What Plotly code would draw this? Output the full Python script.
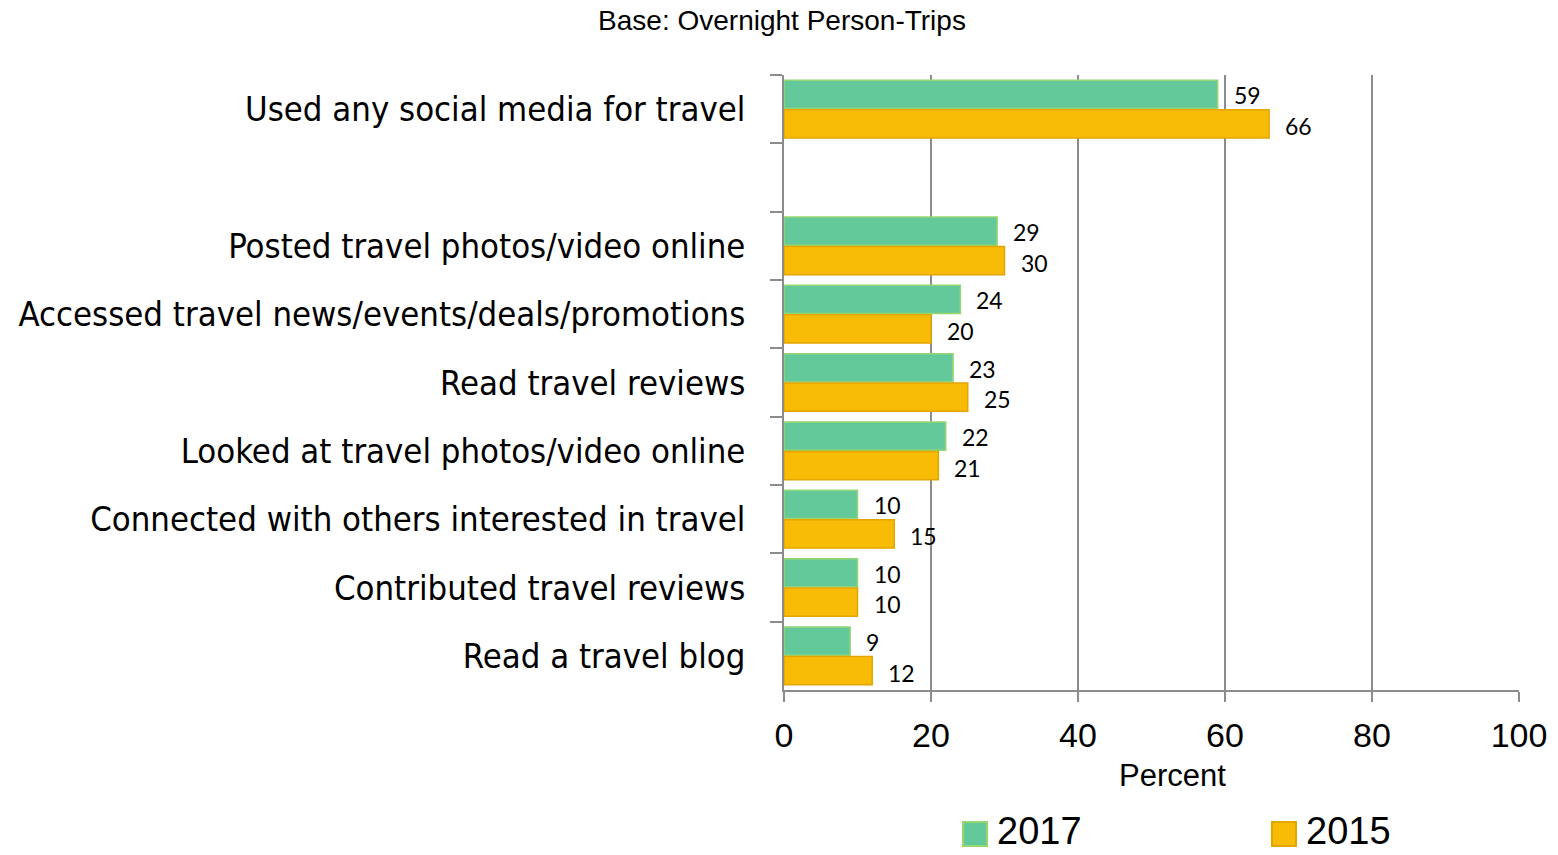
import plotly.graph_objects as go

# Survey items (a blank slot separates the summary row from the detail rows)
categories = [
    "Used any social media for travel",
    " ",
    "Posted travel photos/video online",
    "Accessed travel news/events/deals/promotions",
    "Read travel reviews",
    "Looked at travel photos/video online",
    "Connected with others interested in travel",
    "Contributed travel reviews",
    "Read a travel blog",
]
values_2017 = [59, None, 29, 24, 23, 22, 10, 10, 9]
values_2015 = [66, None, 30, 20, 25, 21, 15, 10, 12]
x_ticks = [0, 20, 40, 60, 80, 100]

GREEN = "#63C99A"
GREEN_EDGE = "#96D672"
GOLD = "#F9BC06"
GOLD_EDGE = "#E3A500"

W, H = 1558, 855
L, R, T, B = 784, 39, 75, 165
plot_w = W - L - R
plot_h = H - T - B


def px_x(px):
    return (px - L) / plot_w


def px_y(py):
    return (H - B - py) / plot_h


fig = go.Figure()
fig.add_trace(go.Bar(
    y=categories, x=values_2017, orientation="h", name="2017",
    marker=dict(color=GREEN, line=dict(color=GREEN_EDGE, width=1.5)),
    showlegend=False,
))
fig.add_trace(go.Bar(
    y=categories, x=values_2015, orientation="h", name="2015",
    marker=dict(color=GOLD, line=dict(color=GOLD_EDGE, width=1.5)),
    showlegend=False,
))

# Value labels just past the end of each bar
slot = plot_h / len(categories)
half_bar = slot * (1 - 0.14) / 4
annotations = []
for cat, v17, v15 in zip(categories, values_2017, values_2015):
    for val, shift in ((v17, half_bar - 1), (v15, -half_bar - 2)):
        if val is None:
            continue
        annotations.append(dict(
            x=val, y=cat, xref="x", yref="y", text=str(val),
            showarrow=False, xanchor="left", yanchor="middle",
            xshift=14, yshift=shift,
            font=dict(family="Lato, Open Sans, sans-serif", size=23, color="#000"),
        ))

# Axis title
annotations.append(dict(
    x=px_x(1172), y=px_y(775), xref="paper", yref="paper", text="Percent",
    showarrow=False, xanchor="center", yanchor="middle",
    font=dict(family="Liberation Sans, Arial, sans-serif", size=31, color="#000"),
))

# Legend drawn as swatches + labels
shapes = []
legend_items = [("2017", GREEN, GREEN_EDGE, 963), ("2015", GOLD, GOLD_EDGE, 1272)]
for label, fill, edge, x0 in legend_items:
    shapes.append(dict(
        type="rect", xref="paper", yref="paper",
        x0=px_x(x0), x1=px_x(x0 + 24), y0=px_y(846), y1=px_y(822),
        fillcolor=fill, line=dict(color=edge, width=2),
    ))
    annotations.append(dict(
        x=px_x(x0 + 32), y=px_y(854), xref="paper", yref="paper", text=label,
        showarrow=False, xanchor="left", yanchor="bottom",
        font=dict(family="Liberation Sans, Arial, sans-serif", size=38, color="#000"),
    ))

fig.update_layout(
    width=W, height=H,
    margin=dict(l=L, r=R, t=T, b=B, autoexpand=False),
    paper_bgcolor="white", plot_bgcolor="white",
    barmode="group", bargap=0.14, bargroupgap=0.04,
    title=dict(
        text="Base: Overnight Person-Trips", xref="container", yref="container",
        x=782 / W, y=1 - 20 / H, xanchor="center", yanchor="middle",
        font=dict(family="Liberation Sans, Arial, sans-serif", size=28, color="#000"),
    ),
    xaxis=dict(
        range=[0, 100], tickvals=x_ticks, showgrid=True, gridcolor="#8C8C8C", gridwidth=1.5,
        showline=True, linecolor="#8C8C8C", linewidth=1.5, zeroline=False,
        ticks="outside", ticklen=10, tickcolor="#8C8C8C", tickwidth=1.5,
        ticklabelstandoff=4, automargin=False,
        tickfont=dict(family="Liberation Sans, Arial, sans-serif", size=34, color="#000"),
    ),
    yaxis=dict(
        type="category", categoryorder="array", categoryarray=categories,
        autorange="reversed", showgrid=False, zeroline=False,
        showline=True, linecolor="#8C8C8C", linewidth=1.5,
        ticks="outside", tickson="boundaries", ticklen=12, tickcolor="#8C8C8C", tickwidth=1.5,
        ticklabelstandoff=30, automargin=False,
        tickfont=dict(family="Liberation Sans Narrow, Arial Narrow, DejaVu Sans Condensed, sans-serif",
                      size=34.4, color="#000"),
    ),
    annotations=annotations,
    shapes=shapes,
)

fig.write_html("out.html")
